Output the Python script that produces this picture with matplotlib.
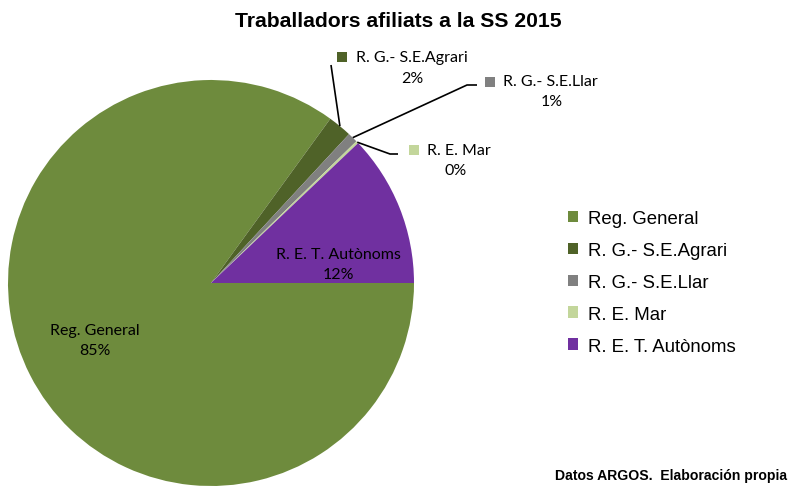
import matplotlib
matplotlib.use("Agg")
import matplotlib.pyplot as plt
import numpy as np

categories = ["Reg. General", "R. G.- S.E.Agrari", "R. G.- S.E.Llar", "R. E. Mar", "R. E. T. Autònoms"]
values = [85.0, 1.9, 0.8, 0.2, 12.1]
colors = ["#6E8B3D", "#4F6228", "#808080", "#C3D69B", "#7030A0"]
title = "Traballadors afiliats a la SS 2015"
source = "Datos ARGOS.  Elaboración propia"

W, H = 797, 489
fig = plt.figure(figsize=(W / 100, H / 100), dpi=100)
ax = fig.add_axes([0, 0, 1, 1])

cx, cy, r = 211, H - 284, 203
wedges, _ = ax.pie(values, colors=colors, startangle=0, counterclock=False,
                   center=(cx, cy), radius=r, frame=True,
                   wedgeprops=dict(linewidth=0))
ax.set_xlim(0, W)
ax.set_ylim(0, H)
ax.set_aspect("equal")
ax.axis("off")

total = sum(values)
pcts = [f"{round(v / total * 100):.0f}%" for v in values]
lab_font = dict(family=["Lato", "DejaVu Sans"], fontsize=11.5, color="black",
                va="center")

# inside labels
ax.text(95, H - 341, categories[0] + "\n" + pcts[0], ha="center", linespacing=1.5, **lab_font)
ax.text(338, H - 265, categories[4] + "\n" + pcts[4], ha="center", linespacing=1.5, **lab_font)

def mid_point(w):
    a = np.deg2rad((w.theta1 + w.theta2) / 2)
    return cx + r * np.cos(a), cy + r * np.sin(a)

# outside labels: leader path, key square centre, name start, percent centre
outside = {
    1: dict(path=[(331, H - 66)], key=(342, H - 58), name=(356, H - 58), pct=(412, H - 79)),
    2: dict(path=[(467, H - 86), (477, H - 86)], key=(490, H - 83), name=(503, H - 82), pct=(552, H - 102)),
    3: dict(path=[(390, H - 155), (398, H - 155)], key=(414, H - 151), name=(427, H - 151), pct=(456, H - 171)),
}
for i, spec in outside.items():
    px, py = mid_point(wedges[i])
    pts = [(px, py)] + spec["path"]
    xs, ys = zip(*pts)
    ax.plot(xs, ys, color="black", lw=1.2, solid_capstyle="butt")
    kx, ky = spec["key"]
    ax.scatter([kx], [ky], marker="s", s=55, color=colors[i], linewidths=0)
    nx, ny = spec["name"]
    ax.text(nx, ny, categories[i], ha="left", **lab_font)
    qx, qy = spec["pct"]
    ax.text(qx, qy, pcts[i], ha="center", **lab_font)

ax.text(W / 2 - 0.5, H - 22, title, family="Liberation Sans", fontweight="bold",
        fontsize=15.2, ha="center", va="center")
ax.text(787, H - 476, source, family="Liberation Sans", fontweight="bold",
        fontsize=10.1, ha="right", va="center")

leg = ax.legend(wedges, categories, loc="upper left", bbox_to_anchor=(568 / W, 1 - 211 / H),
                frameon=False, prop=dict(family="Liberation Sans", size=13.4),
                handlelength=0.55, handleheight=0.55, handletextpad=0.5,
                labelspacing=0.8, borderpad=0, borderaxespad=0)

fig.savefig("out.png", dpi=100)
